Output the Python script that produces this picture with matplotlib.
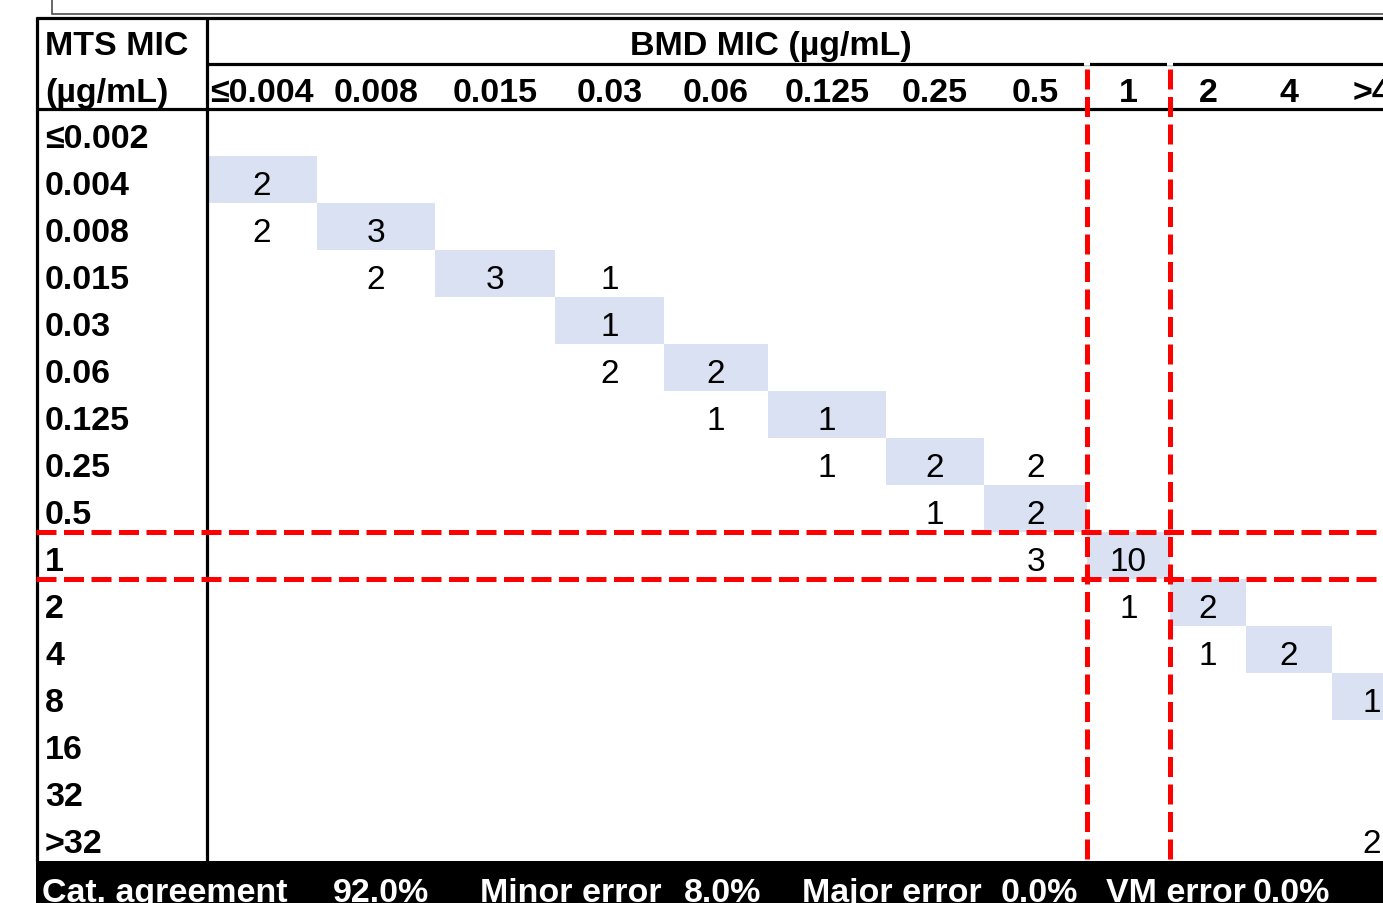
import matplotlib
matplotlib.use("Agg")
import matplotlib.pyplot as plt
from matplotlib.patches import Rectangle
import numpy as np

plt.rcParams['font.family'] = ['Liberation Sans', 'DejaVu Sans']

# BMD (columns) vs MTS (rows) MIC categories, ug/mL
bmd_labels = ["≤0.004", "0.008", "0.015", "0.03", "0.06", "0.125",
              "0.25", "0.5", "1", "2", "4", ">4"]
mts_labels = ["≤0.002", "0.004", "0.008", "0.015", "0.03", "0.06", "0.125",
              "0.25", "0.5", "1", "2", "4", "8", "16", "32", ">32"]

# number of isolates per (MTS row, BMD column)
counts = np.array([
    [0, 0, 0, 0, 0, 0, 0, 0, 0, 0, 0, 0],
    [2, 0, 0, 0, 0, 0, 0, 0, 0, 0, 0, 0],
    [2, 3, 0, 0, 0, 0, 0, 0, 0, 0, 0, 0],
    [0, 2, 3, 1, 0, 0, 0, 0, 0, 0, 0, 0],
    [0, 0, 0, 1, 0, 0, 0, 0, 0, 0, 0, 0],
    [0, 0, 0, 2, 2, 0, 0, 0, 0, 0, 0, 0],
    [0, 0, 0, 0, 1, 1, 0, 0, 0, 0, 0, 0],
    [0, 0, 0, 0, 0, 1, 2, 2, 0, 0, 0, 0],
    [0, 0, 0, 0, 0, 0, 1, 2, 0, 0, 0, 0],
    [0, 0, 0, 0, 0, 0, 0, 3, 10, 0, 0, 0],
    [0, 0, 0, 0, 0, 0, 0, 0, 1, 2, 0, 0],
    [0, 0, 0, 0, 0, 0, 0, 0, 0, 1, 2, 0],
    [0, 0, 0, 0, 0, 0, 0, 0, 0, 0, 0, 1],
    [0, 0, 0, 0, 0, 0, 0, 0, 0, 0, 0, 0],
    [0, 0, 0, 0, 0, 0, 0, 0, 0, 0, 0, 0],
    [0, 0, 0, 0, 0, 0, 0, 0, 0, 0, 0, 2],
])

# intermediate category (breakpoint lines drawn around it)
bmd_inter = "1"
mts_inter = "1"

summary_names = ["Cat. agreement", "Minor error", "Major error", "VM error"]
summary_pct = [92.0, 8.0, 0.0, 0.0]

# ---- layout (pixels) ----
W, H = 1383, 904
col_edges = [207, 317, 435, 555, 664, 768, 886, 984, 1087, 1170, 1246, 1332, 1412]
row_top, row_h = 110, 47
left_x, split_x = 37, 207
summary_x = [(42, 333), (480, 684), (802, 1001), (1106, 1253)]
shade = "#D9E1F2"
red = "#FF0000"

fig = plt.figure(figsize=(W / 100, H / 100), dpi=100)
ax = fig.add_axes([0, 0, 1, 1])
ax.set_xlim(0, W)
ax.set_ylim(H, 0)
ax.axis("off")

n_rows = len(mts_labels)
bottom = row_top + n_rows * row_h

# essential-agreement diagonal shading and counts
for i in range(n_rows):
    y0 = row_top + i * row_h
    for j in range(len(bmd_labels)):
        x0, x1 = col_edges[j], col_edges[j + 1]
        if i - 1 == j and i <= 12:
            ax.add_patch(Rectangle((x0, y0), x1 - x0, row_h, color=shade, lw=0))
        if counts[i, j] > 0:
            ax.text((x0 + x1) / 2, y0 + row_h - 9, str(counts[i, j]), fontsize=24,
                    ha="center", va="baseline", color="black")
    ax.text(45, y0 + row_h - 9, mts_labels[i], fontsize=24.5, fontweight="bold",
            ha="left", va="baseline")

# header
ax.text(45, 55, "MTS MIC", fontsize=24.5, fontweight="bold", ha="left", va="baseline")
ax.text(45, 102, "(µg/mL)", fontsize=24.5, fontweight="bold", ha="left", va="baseline")
ax.text(771, 55, "BMD MIC (µg/mL)", fontsize=24.5, fontweight="bold", ha="center", va="baseline")
for j, lab in enumerate(bmd_labels):
    ax.text((col_edges[j] + col_edges[j + 1]) / 2, 102, lab, fontsize=24.5,
            fontweight="bold", ha="center", va="baseline")

# title box remnant at top
ax.plot([52, 52, W], [0, 15, 15], color="#404040", lw=1.1, solid_joinstyle="miter")

# table grid
blk = dict(color="black", lw=2.3, solid_capstyle="butt")
ax.plot([36, W], [18.5, 18.5], **blk)
ax.plot([split_x, W], [65, 65], **blk)
ax.plot([36, W], [110, 110], **blk)
ax.plot([left_x, left_x], [18, bottom], **blk)
ax.plot([split_x, split_x], [18, bottom], **blk)

# breakpoint lines
dash = dict(color=red, lw=3.6, linestyle=(0, (4, 1.5)), dash_capstyle="butt")
jc = bmd_labels.index(bmd_inter)
ir = mts_labels.index(mts_inter)
for x in (col_edges[jc], col_edges[jc + 1]):
    ax.plot([x - 3, x + 3], [65, 65], color="white", lw=2.6, solid_capstyle="butt")
    ax.plot([x, x], [70, bottom], **dash)
for k in (ir, ir + 1):
    y = row_top + k * row_h
    ax.plot([36, W], [y, y], **dash)

# summary band
ax.add_patch(Rectangle((36, bottom), W - 36, H - bottom, color="black", lw=0))
for (nx, vx), name, pct in zip(summary_x, summary_names, summary_pct):
    ax.text(nx, 902, name, fontsize=24.5, fontweight="bold", color="white",
            ha="left", va="baseline")
    ax.text(vx, 902, f"{pct:.1f}%", fontsize=24.5, fontweight="bold", color="white",
            ha="left", va="baseline")

fig.savefig("out.png", dpi=100)
